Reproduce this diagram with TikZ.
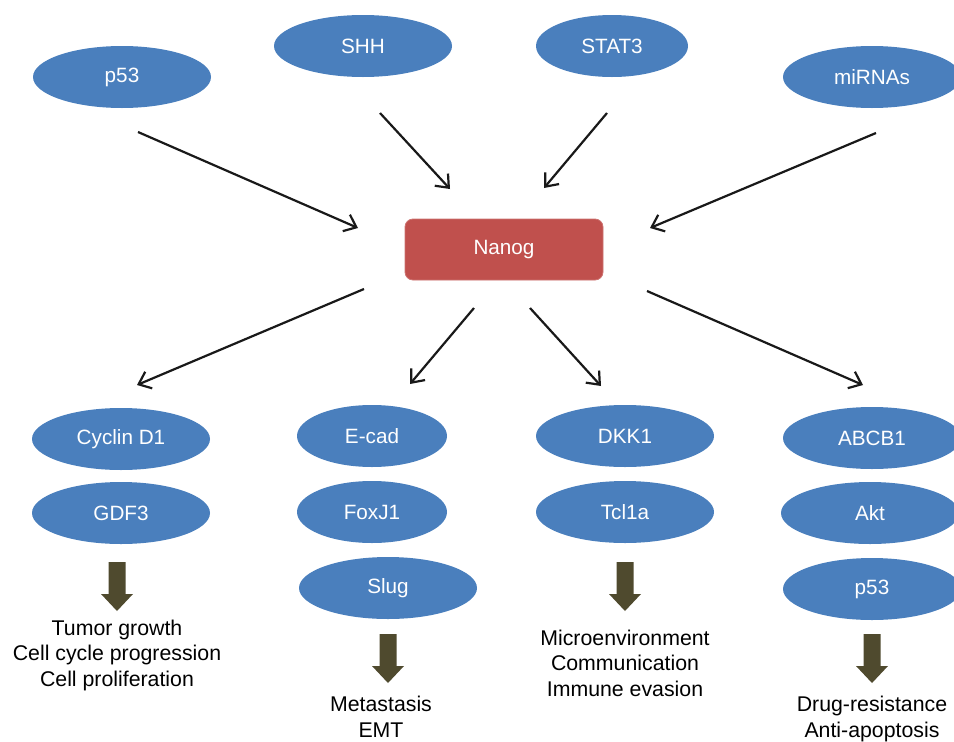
\documentclass[tikz,border=0pt]{standalone}
\usepackage{fontspec}
\setmainfont{Liberation Sans}
\usetikzlibrary{arrows.meta,shapes.geometric,shapes.arrows}
\definecolor{ellblue}{RGB}{74,127,189}
\definecolor{nanogred}{RGB}{192,80,77}
\definecolor{olive}{RGB}{79,74,46}
\tikzset{
  ell/.style={ellipse,fill=ellblue,draw=none,minimum width=178pt,minimum height=62pt,inner sep=0pt,text=white,font=\fontsize{20.7}{24}\selectfont},
  nanogbox/.style={rectangle,rounded corners=8pt,fill=nanogred,draw=nanogred!80!white,line width=0.8pt,minimum width=198pt,minimum height=61pt,text=white,font=\fontsize{20.7}{24}\selectfont},
  conn/.style={line width=2.2pt,draw=black!90,-{Straight Barb[length=11pt,width=18pt,line width=2.2pt]}},
  blockarrow/.style={fill=olive,draw=none},
  outcome/.style={align=center,font=\fontsize{21.3}{25.5}\selectfont,inner sep=0pt}
}
\begin{document}
\begin{tikzpicture}[x=1pt,y=-1pt]
\useasboundingbox (0,0) rectangle (954,742);
\clip (0,0) rectangle (954,742);
% top row
\node[ell] (p53top) at (122,77) {p53};
\node[ell] (shh) at (363,46) {SHH};
\node[ell,minimum width=152pt] (stat3) at (612,46) {STAT3};
\node[ell] (mirnas) at (872,77) {miRNAs};
% centre
\node[nanogbox] (nanog) at (504,249.5) {Nanog};
% bottom
\node[ell] (cyclin) at (121,439) {Cyclin D1};
\node[ell] (gdf3) at (121,513) {GDF3};
\node[ell,minimum width=150pt] (ecad) at (372,436) {E-cad};
\node[ell,minimum width=150pt] (foxj1) at (372,512) {FoxJ1};
\node[ell] (slug) at (388,588) {Slug};
\node[ell] (dkk1) at (625,436) {DKK1};
\node[ell] (tcl1a) at (625,512) {Tcl1a};
\node[ell] (abcb1) at (872,438) {ABCB1};
\node[ell] (akt) at (870,513) {Akt};
\node[ell] (p53b) at (872,589) {p53};
% connector end points
\coordinate (a1s) at (138,132); \coordinate (a1e) at (358,228);
\coordinate (a2s) at (380,113); \coordinate (a2e) at (450,189);
\coordinate (a3s) at (607,113); \coordinate (a3e) at (544,188);
\coordinate (a4s) at (876,133); \coordinate (a4e) at (650,228);
\coordinate (b1s) at (364,289); \coordinate (b1e) at (137,385);
\coordinate (b2s) at (474,308); \coordinate (b2e) at (410,384);
\coordinate (b3s) at (530,308); \coordinate (b3e) at (601,386);
\coordinate (b4s) at (647,291); \coordinate (b4e) at (863,385);
\draw[conn] (a1s) -- (a1e);
\draw[conn] (a2s) -- (a2e);
\draw[conn] (a3s) -- (a3e);
\draw[conn] (a4s) -- (a4e);
\draw[conn] (b1s) -- (b1e);
\draw[conn] (b2s) -- (b2e);
\draw[conn] (b3s) -- (b3e);
\draw[conn] (b4s) -- (b4e);
% block arrows
\foreach \cx/\ty in {117/562, 388/634, 625/562, 872/634}{
  \fill[blockarrow] (\cx-8.5,\ty) -- (\cx+8.5,\ty) -- (\cx+8.5,\ty+32) -- (\cx+16,\ty+32)
     -- (\cx,\ty+49) -- (\cx-16,\ty+32) -- (\cx-8.5,\ty+32) -- cycle;
}
% outcome texts
\node[outcome] (o1) at (117,655) {Tumor growth\\Cell cycle progression\\Cell proliferation};
\node[outcome] (o2) at (381,717) {Metastasis\\EMT};
\node[outcome] (o3) at (625,663) {Microenvironment\\Communication\\Immune evasion};
\node[outcome] (o4) at (872,719) {Drug-resistance\\Anti-apoptosis};
\end{tikzpicture}
\end{document}
